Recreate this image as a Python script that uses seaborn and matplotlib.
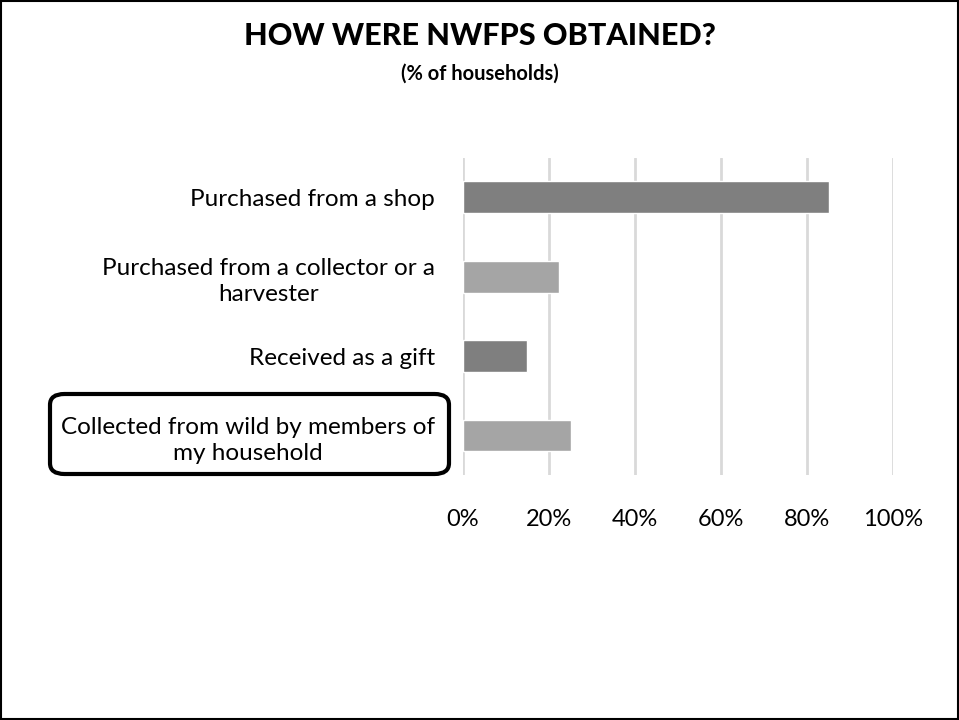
import seaborn as sns
import matplotlib.pyplot as plt
import pandas as pd
from matplotlib.patches import FancyBboxPatch, Rectangle
from matplotlib.ticker import PercentFormatter

# categories (top to bottom) and share of households
categories = [
    "Purchased from a shop",
    "Purchased from a collector or a\nharvester",
    "Received as a gift",
    "Collected from wild by members of\nmy household",
]
share = [0.85, 0.223, 0.149, 0.251]
bar_colors = ["#7f7f7f", "#a5a5a5", "#7f7f7f", "#a5a5a5"]

df = pd.DataFrame({"how": categories, "share": share})

sns.set_style("white")
plt.rcParams["font.family"] = ["Lato", "DejaVu Sans"]
plt.rcParams["text.color"] = "black"
plt.rcParams["xtick.color"] = "black"
plt.rcParams["ytick.color"] = "black"

fig = plt.figure(figsize=(9.59, 7.2), dpi=100)
ax = fig.add_axes([0.4828, 0.340, 0.4484, 0.441])

sns.barplot(
    data=df, x="share", y="how", hue="how",
    palette=bar_colors, width=0.4, legend=False, ax=ax,
    saturation=1,
)

ax.set_xlim(0, 1)
ax.set_ylim(3.5, -0.5)
ax.xaxis.set_major_formatter(PercentFormatter(1.0, decimals=0))
ax.set_xticks([0, 0.2, 0.4, 0.6, 0.8, 1.0])
ax.grid(True, axis="x", color="#d9d9d9", linewidth=2)
ax.set_axisbelow(True)
for s in ax.spines.values():
    s.set_visible(False)
ax.set_xlabel("")
ax.set_ylabel("")
ax.tick_params(axis="x", length=0, pad=24, labelsize=17, labelcolor="black")
ax.tick_params(axis="y", length=0, pad=20, labelsize=17.5, labelcolor="black")
for lab in ax.get_yticklabels():
    lab.set_multialignment("center")
    lab.set_linespacing(1.3)

fig.text(0.5, 0.950, "HOW WERE NWFPS OBTAINED?", ha="center", va="center",
         fontsize=22, fontweight="black", color="black")
fig.text(0.5, 0.898, "(% of households)", ha="center", va="center",
         fontsize=14.5, fontweight="bold", color="black")

# rounded highlight box around the last label
fig.patches.append(FancyBboxPatch(
    (50 / 959, 1 - 474 / 720), 399 / 959, 80 / 720,
    boxstyle="round,pad=0,rounding_size=0.015",
    transform=fig.transFigure, fill=False, edgecolor="black", linewidth=3,
))
# outer frame
fig.patches.append(Rectangle((0.001, 0.001), 0.998, 0.998, transform=fig.transFigure,
                             fill=False, edgecolor="black", linewidth=1.5))

fig.savefig("out.png", dpi=100)
